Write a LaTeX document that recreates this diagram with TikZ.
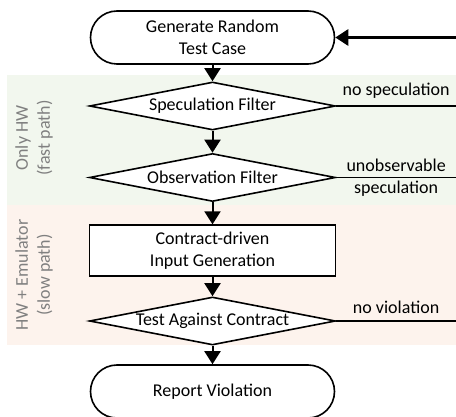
\documentclass[tikz,border=0pt]{standalone}
\usepackage{fontspec}
\setmainfont{Carlito}
\usetikzlibrary{shapes.geometric,shapes.misc,arrows.meta}
\definecolor{fastbg}{RGB}{242,247,238}
\definecolor{slowbg}{RGB}{253,243,237}
\definecolor{sidegray}{RGB}{128,128,128}

\begin{document}
\begin{tikzpicture}[x=0.5pt,y=-0.5pt,
  font=\fontsize{9}{11}\selectfont,
  terminal/.style={draw,line width=0.8pt,rounded rectangle,minimum width=131pt,minimum height=26.5pt,inner sep=4.5pt,align=center,fill=white},
  decision/.style={draw,line width=0.8pt,diamond,aspect=5,inner sep=0pt,minimum width=123pt,minimum height=24pt,fill=white},
  process/.style={draw,line width=0.8pt,rectangle,minimum width=123pt,minimum height=24.5pt,align=center,fill=white},
  flow/.style={line width=1pt,-{Triangle[width=8pt,length=6.5pt]}},
  branch/.style={line width=0.8pt},
  side/.style={rotate=90,align=center,text=sidegray}]
\useasboundingbox (0,0) rectangle (456,417);
% background bands
\fill[fastbg] (7,75) rectangle (456,205);
\fill[slowbg] (7,205) rectangle (456,345);
\node[side] (fast) at (34,138) {Only HW\\(fast path)};
\node[side] (slow) at (34,275) {HW + Emulator\\(slow path)};

\node[terminal] (gen) at (212.5,37.5) {Generate Random\\Test Case};
\node[decision] (spec) at (212.5,106) {Speculation Filter};
\node[decision] (obs) at (212.5,177.5) {Observation Filter};
\node[process] (input) at (212.5,250.5) {Contract-driven\\Input Generation};
\node[decision] (test) at (212.5,321) {Test Against Contract};
\node[terminal] (report) at (212.5,391.5) {Report Violation};

\coordinate (loop) at (456,37.5);
\coordinate (specend) at (456,106);
\coordinate (obsend) at (456,177.5);
\coordinate (testend) at (456,321);

\draw[flow] (gen.south) -- (spec.north);
\draw[flow] (spec.south) -- (obs.north);
\draw[flow] (obs.south) -- (input.north);
\draw[flow] (input.south) -- (test.north);
\draw[flow] (test.south) -- (report.north);
\draw[flow,line width=1.5pt] (loop) -- (gen.east);

\draw[branch] (spec.east) -- node[above] (nospec) {no speculation} (specend);
\draw[branch] (obs.east) -- node[align=center] (unobs) {unobservable\\speculation} (obsend);
\draw[branch] (test.east) -- node[above] (noviol) {no violation} (testend);
\end{tikzpicture}
\end{document}
